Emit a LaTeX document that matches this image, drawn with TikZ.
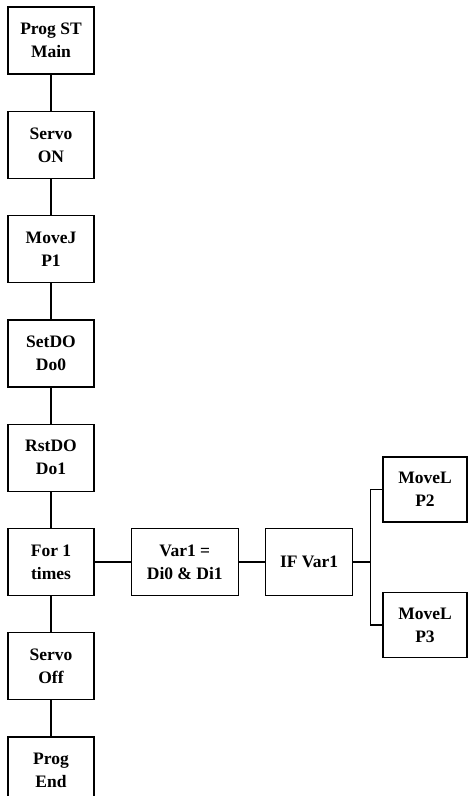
\documentclass[tikz,border=0pt]{standalone}
\usepackage{fontspec}
\setmainfont{Liberation Serif}
\usetikzlibrary{positioning}

\begin{document}
\begin{tikzpicture}[x=1pt,y=1pt,-,node distance=36pt,
  box/.style={draw, line width=1.3pt, minimum width=86pt, minimum height=67pt,
    inner sep=0pt, align=center, font=\fontsize{17.5}{23}\selectfont\bfseries}]
\useasboundingbox (0,0) rectangle (468,-796);
%main column
\node[box] (progst) at (51,-40.5) {Prog ST\\Main};
\node[box, below=of progst] (servoon) {Servo\\ON};
\node[box, below=of servoon] (movej) {MoveJ\\P1};
\node[box, below=of movej] (setdo) {SetDO\\Do0};
\node[box, below=of setdo] (rstdo) {RstDO\\Do1};
\node[box, below=of rstdo] (for) {For 1\\times};
\node[box, below=of for] (servooff) {Servo\\Off};
\node[box, below=of servooff] (progend) {Prog\\End};
%loop body
\node[box, minimum width=107pt, right=of for] (var) {Var1 =\\Di0 \& Di1};
\node[box, minimum width=87pt, right=26pt of var] (if) {IF Var1};
\coordinate[right=17pt of if] (split);
%branch 1
\node[box, minimum width=84pt, minimum height=65pt] (movep2) at (425,-489.5) {MoveL\\P2};
%branch 2
\node[box, minimum width=84pt, minimum height=65pt] (movep3) at (425,-625) {MoveL\\P3};

\begin{scope}[line width=1.3pt]
\foreach \a/\b in {progst/servoon,servoon/movej,movej/setdo,setdo/rstdo,
  rstdo/for,for/servooff,servooff/progend,for/var,var/if}
  \draw (\a) -- (\b);
\draw (if) -- (split);
\draw (split |- movep2.west) -- (split |- movep3.west);
\draw (split |- movep2.west) -- (movep2.west);
\draw (split |- movep3.west) -- (movep3.west);
\end{scope}
\end{tikzpicture}
\end{document}
